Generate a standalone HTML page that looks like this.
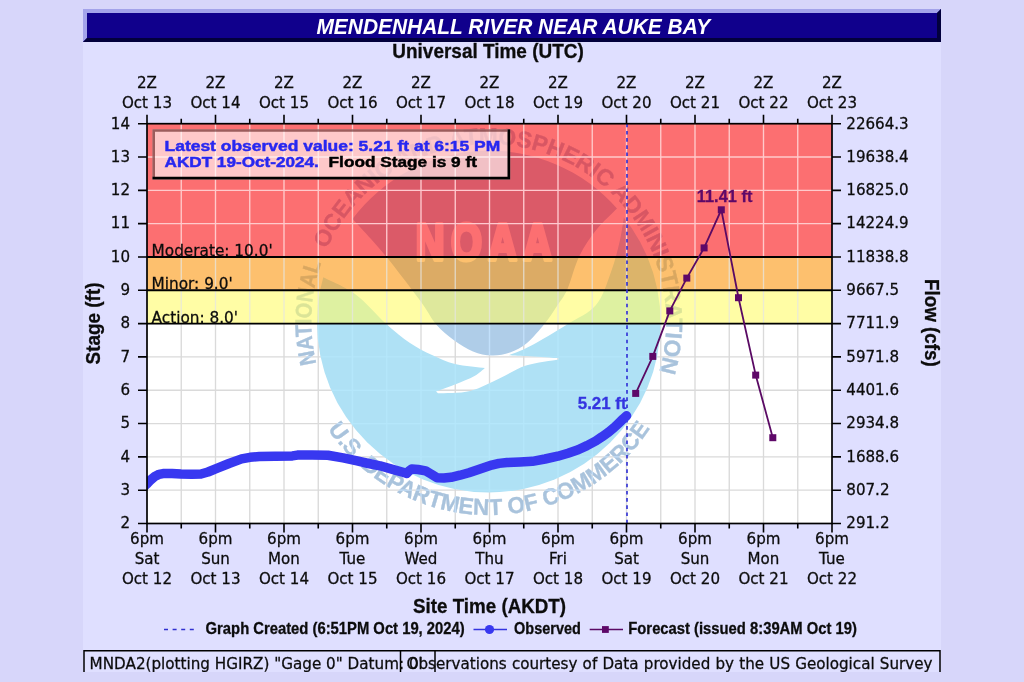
<!DOCTYPE html>
<html lang="en"><head><meta charset="utf-8"><title>Mendenhall River near Auke Bay</title>
<style>
html,body{margin:0;padding:0;background:#d7d6fa;}
body{width:1024px;height:682px;overflow:hidden;}
svg{display:block;}
.v{font-family:"DejaVu Sans", Verdana, "Liberation Sans", sans-serif;font-size:15.1px;fill:#0c0c0c;stroke:#0c0c0c;stroke-width:.28px;}
.b{font-family:"Liberation Sans", Arial, Helvetica, sans-serif;font-weight:bold;}
.k{stroke:#0c0c0c;stroke-width:.3px;}
</style></head><body>
<svg width="1024" height="682" viewBox="0 0 1024 682">
<defs>
<clipPath id="plot"><rect x="147" y="123.7" width="685" height="399.8"/></clipPath>
<clipPath id="panel"><rect x="83" y="9" width="858" height="663"/></clipPath>
<filter id="soft" x="-5%" y="-5%" width="110%" height="110%"><feGaussianBlur stdDeviation="0.45"/></filter>
</defs>
<rect x="0" y="0" width="1024" height="682" fill="#d7d6fa"/>
<rect x="83" y="9" width="858" height="663" fill="#dfdfff"/>
<g>
<rect x="83" y="9" width="858" height="33" fill="#10008c"/>
<polygon points="83,9 941,9 937,13 87,13 87,38 83,42" fill="#a3a3ea"/>
<polygon points="941,9 941,42 83,42 87,38 937,38 937,13" fill="#02003c"/>
<text class="b" x="316.4" y="33.7" font-size="21.6" font-style="italic" fill="#fff" textLength="393.8" lengthAdjust="spacingAndGlyphs">MENDENHALL RIVER NEAR AUKE BAY</text>
</g>
<text class="b k" x="392.3" y="58" font-size="20.2" fill="#0c0c0c" textLength="191.5" lengthAdjust="spacingAndGlyphs">Universal Time (UTC)</text>
<rect x="147" y="123.7" width="685" height="399.8" fill="#fff"/>
<g id="noaa" clip-path="url(#plot)">
<ellipse cx="488.8" cy="322.4" rx="171.8" ry="170" fill="#afe1f5"/>
<path d="M320.5 276.0 C326.2 279.0 344.1 286.1 355.0 294.0 C365.9 301.9 376.8 315.5 386.0 323.7 C395.2 331.9 402.3 337.8 410.0 343.0 C417.7 348.2 424.5 351.5 432.0 355.0 C439.5 358.5 446.2 361.8 455.0 364.0 C463.8 366.2 480.0 367.3 485.0 368.0 L485.0 368.0 C483.2 369.3 479.5 373.2 474.5 376.0 C469.5 378.8 461.4 381.9 455.0 384.5 C448.6 387.1 439.2 390.3 436.0 391.5 L438.0 393.3 C443.4 392.9 459.8 393.6 470.2 391.0 C480.6 388.4 491.0 382.2 500.3 378.0 C509.6 373.8 516.3 368.6 526.0 365.5 C535.7 362.4 553.1 360.4 558.5 359.4 L558.5 358.2 C553.8 357.9 538.2 356.7 530.0 356.2 C521.8 355.7 512.5 355.4 509.0 355.2 L509.0 355.2 C512.6 353.7 520.7 351.1 530.4 346.0 C540.1 340.9 556.1 331.2 567.0 324.4 C577.9 317.6 588.7 313.7 596.0 305.0 C603.3 296.3 607.0 282.8 611.0 272.0 C615.0 261.2 617.8 249.8 620.0 240.0 C622.2 230.2 623.8 217.5 624.5 213.0 A171.4 171.4 0 0 0 320.5 276.0 Z" fill="#ffffff"/>
<path d="M352.5 219.0 C355.6 222.3 365.1 232.4 371.0 239.0 C376.9 245.6 382.6 252.2 388.0 258.8 C393.4 265.4 397.5 270.9 403.4 278.6 C409.3 286.3 417.7 297.3 423.2 305.0 C428.7 312.7 431.3 318.9 436.4 324.8 C441.5 330.7 447.9 335.8 454.0 340.2 C460.1 344.6 466.7 348.9 473.0 351.5 C479.3 354.1 485.5 355.3 491.7 355.5 C497.9 355.7 504.1 354.6 510.0 352.5 C515.9 350.4 521.2 347.9 527.0 343.0 C532.8 338.1 540.0 329.5 545.0 323.3 C550.0 317.1 553.2 311.7 557.0 306.0 C560.8 300.3 563.8 297.3 567.5 289.0 C571.2 280.7 574.5 265.9 579.4 256.0 C584.2 246.1 590.3 237.5 596.6 229.6 C602.9 221.7 613.6 212.0 617.0 208.5 A170.4 170.4 0 0 0 352.5 219.0 Z" fill="#afcde8"/>
<text transform="translate(415.8 260.4) scale(0.78 1)" letter-spacing="8.2" font-family="&quot;Liberation Sans&quot;, Arial, sans-serif" font-weight="bold" font-size="51" fill="#ffffff" stroke="#ffffff" stroke-width="4.2" stroke-linejoin="round">NOAA</text>
<path id="ringTopA" d="M316.35 363.64 A177.5 177.5 0 0 1 321.28 262.93" fill="none"/>
<path id="ringTopB" d="M326.65 249.40 A177.5 177.5 0 0 1 659.08 371.72" fill="none"/>
<path id="ringBot" d="M327.82 428.96 A193.5 193.5 0 0 0 649.97 428.68" fill="none"/>
<g font-family="&quot;Liberation Sans&quot;, Arial, sans-serif" font-weight="bold" font-size="23" fill="#a9c3dc" stroke="#a9c3dc" stroke-width="0.35">
<text><textPath href="#ringTopA" textLength="102.2" lengthAdjust="spacingAndGlyphs">NATIONAL</textPath></text>
<text><textPath href="#ringTopB" textLength="534.1" lengthAdjust="spacingAndGlyphs">OCEANIC AND ATMOSPHERIC ADMINISTRATION</textPath></text>
<text><textPath href="#ringBot" textLength="380.6" lengthAdjust="spacingAndGlyphs">U.S. DEPARTMENT OF COMMERCE</textPath></text>
</g>
</g>
<g clip-path="url(#plot)">
<rect x="147" y="123.7" width="685" height="133.267" fill="#fa0a0d" fill-opacity="0.59"/>
<rect x="147" y="256.967" width="685" height="33.3167" fill="#fc9408" fill-opacity="0.59"/>
<rect x="147" y="290.283" width="685" height="33.3167" fill="#fffc66" fill-opacity="0.59"/>
</g>
<clipPath id="cool"><rect x="147" y="123.7" width="685" height="133.27"/><rect x="147" y="323.60" width="685" height="199.90"/></clipPath>
<clipPath id="warm"><rect x="147" y="256.97" width="685" height="66.63"/></clipPath>
<path d="M181.25 123.7 V523.5 M215.50 123.7 V523.5 M249.75 123.7 V523.5 M284.00 123.7 V523.5 M318.25 123.7 V523.5 M352.50 123.7 V523.5 M386.75 123.7 V523.5 M421.00 123.7 V523.5 M455.25 123.7 V523.5 M489.50 123.7 V523.5 M523.75 123.7 V523.5 M558.00 123.7 V523.5 M592.25 123.7 V523.5 M626.50 123.7 V523.5 M660.75 123.7 V523.5 M695.00 123.7 V523.5 M729.25 123.7 V523.5 M763.50 123.7 V523.5 M797.75 123.7 V523.5 M147 490.18 H832 M147 456.87 H832 M147 423.55 H832 M147 390.23 H832 M147 356.92 H832 M147 323.60 H832 M147 290.28 H832 M147 256.97 H832 M147 223.65 H832 M147 190.33 H832 M147 157.02 H832" stroke="#dadada" stroke-width="1.35" fill="none" clip-path="url(#cool)" style="mix-blend-mode:luminosity"/>
<path d="M181.25 123.7 V523.5 M215.50 123.7 V523.5 M249.75 123.7 V523.5 M284.00 123.7 V523.5 M318.25 123.7 V523.5 M352.50 123.7 V523.5 M386.75 123.7 V523.5 M421.00 123.7 V523.5 M455.25 123.7 V523.5 M489.50 123.7 V523.5 M523.75 123.7 V523.5 M558.00 123.7 V523.5 M592.25 123.7 V523.5 M626.50 123.7 V523.5 M660.75 123.7 V523.5 M695.00 123.7 V523.5 M729.25 123.7 V523.5 M763.50 123.7 V523.5 M797.75 123.7 V523.5 M147 490.18 H832 M147 456.87 H832 M147 423.55 H832 M147 390.23 H832 M147 356.92 H832 M147 323.60 H832 M147 290.28 H832 M147 256.97 H832 M147 223.65 H832 M147 190.33 H832 M147 157.02 H832" stroke="#e6e6e2" stroke-opacity="0.75" stroke-width="1.35" fill="none" clip-path="url(#warm)"/>
<text class="v" x="151.6" y="256.0" style="font-size:15.3px">Moderate: 10.0'</text>
<line x1="147" y1="256.97" x2="832" y2="256.97" stroke="#000" stroke-width="1.9"/>
<text class="v" x="151.6" y="289.3" style="font-size:15.3px">Minor: 9.0'</text>
<line x1="147" y1="290.28" x2="832" y2="290.28" stroke="#000" stroke-width="1.9"/>
<text class="v" x="151.6" y="322.6" style="font-size:15.3px">Action: 8.0'</text>
<line x1="147" y1="323.60" x2="832" y2="323.60" stroke="#000" stroke-width="1.9"/>
<line x1="627" y1="123.7" x2="627" y2="523.5" stroke="#2c2cd4" stroke-width="1.6" stroke-dasharray="3.6 3.6"/>
<polyline points="143,487.5 147,483.8 150,480.5 155.2,476.2 159,474.4 163,473.6 172,473.6 181,474.1 192,474.3 201,474 208,472 216.2,468.6 229,463.5 241.6,458.9 250,457.3 259.3,456.6 275,456.2 292.4,455.9 297.4,455.1 312,455 327.9,455.2 343.1,457.9 356,460.6 368.5,463.5 380,465.8 395.2,470.1 403,472.3 406.7,473.4 409,471 411.7,468.9 418,469.5 425.7,470.9 431,474 437.1,477.8 444,478 451.1,477.3 460,475.2 468.9,472.7 480,469 491.7,465.1 499,463.4 507,462.5 520,462 532.4,461.3 545,459 557.8,456.2 568,453.3 578.1,449.8 587,445.6 595.9,440.9 602,436.8 608.6,432.1 614,427.6 618.7,423.2 623,419 626.6,415.8" fill="none" stroke="#3838f0" stroke-width="9.5" stroke-linejoin="round" stroke-linecap="round" clip-path="url(#plot)"/>
<polyline points="635.7,393.4 652.8,356.4 669.8,310.9 686.8,278.1 704.1,247.9 721.3,209.8 738.5,297.7 755.7,375.1 772.8,437.7" fill="none" stroke="#5a0a64" stroke-width="1.8"/>
<rect x="632.2" y="389.9" width="7" height="7" fill="#5e0868"/>
<rect x="649.3" y="352.9" width="7" height="7" fill="#5e0868"/>
<rect x="666.3" y="307.4" width="7" height="7" fill="#5e0868"/>
<rect x="683.3" y="274.6" width="7" height="7" fill="#5e0868"/>
<rect x="700.6" y="244.4" width="7" height="7" fill="#5e0868"/>
<rect x="717.8" y="206.3" width="7" height="7" fill="#5e0868"/>
<rect x="735.0" y="294.2" width="7" height="7" fill="#5e0868"/>
<rect x="752.2" y="371.6" width="7" height="7" fill="#5e0868"/>
<rect x="769.3" y="434.2" width="7" height="7" fill="#5e0868"/>
<text class="b" x="724.6" y="202" text-anchor="middle" font-size="16.4" fill="#5e0868" stroke="#5e0868" stroke-width=".3">11.41 ft</text>
<text class="b" x="626.6" y="408.5" text-anchor="end" font-size="16.9" fill="#3434e0" stroke="#3434e0" stroke-width=".3">5.21 ft</text>
<rect x="152.4" y="129.2" width="357.8" height="50.3" fill="#ffffff" fill-opacity="0.62"/>
<path d="M153.7 177 V130.5 H507.5" stroke="#5a1414" stroke-opacity="0.6" stroke-width="2.6" fill="none"/>
<path d="M152.4 178.2 H508.85 V129.2" stroke="#000" stroke-width="2.7" fill="none"/>
<g class="b" font-size="14.3" lengthAdjust="spacingAndGlyphs">
<text x="164.5" y="151.3" fill="#2828f0" stroke="#2828f0" stroke-width=".45" textLength="335.8" lengthAdjust="spacingAndGlyphs">Latest observed value: 5.21 ft at 6:15 PM</text>
<text x="164.5" y="167.3" fill="#2828f0" stroke="#2828f0" stroke-width=".45" textLength="154.3" lengthAdjust="spacingAndGlyphs">AKDT 19-Oct-2024.</text>
<text x="328.6" y="167.3" fill="#000" stroke="#000" stroke-width=".45" textLength="148.3" lengthAdjust="spacingAndGlyphs">Flood Stage is 9 ft</text>
</g>
<rect x="147" y="123.7" width="685" height="399.8" fill="none" stroke="#000" stroke-width="1.7"/>
<path d="M147.00 123.7 v-9 M147.00 523.5 v9 M181.25 123.7 v-5 M181.25 523.5 v5 M215.50 123.7 v-9 M215.50 523.5 v9 M249.75 123.7 v-5 M249.75 523.5 v5 M284.00 123.7 v-9 M284.00 523.5 v9 M318.25 123.7 v-5 M318.25 523.5 v5 M352.50 123.7 v-9 M352.50 523.5 v9 M386.75 123.7 v-5 M386.75 523.5 v5 M421.00 123.7 v-9 M421.00 523.5 v9 M455.25 123.7 v-5 M455.25 523.5 v5 M489.50 123.7 v-9 M489.50 523.5 v9 M523.75 123.7 v-5 M523.75 523.5 v5 M558.00 123.7 v-9 M558.00 523.5 v9 M592.25 123.7 v-5 M592.25 523.5 v5 M626.50 123.7 v-9 M626.50 523.5 v9 M660.75 123.7 v-5 M660.75 523.5 v5 M695.00 123.7 v-9 M695.00 523.5 v9 M729.25 123.7 v-5 M729.25 523.5 v5 M763.50 123.7 v-9 M763.50 523.5 v9 M797.75 123.7 v-5 M797.75 523.5 v5 M832.00 123.7 v-9 M832.00 523.5 v9 M147 523.50 h-9 M832 523.50 h9 M147 490.18 h-9 M832 490.18 h9 M147 456.87 h-9 M832 456.87 h9 M147 423.55 h-9 M832 423.55 h9 M147 390.23 h-9 M832 390.23 h9 M147 356.92 h-9 M832 356.92 h9 M147 323.60 h-9 M832 323.60 h9 M147 290.28 h-9 M832 290.28 h9 M147 256.97 h-9 M832 256.97 h9 M147 223.65 h-9 M832 223.65 h9 M147 190.33 h-9 M832 190.33 h9 M147 157.02 h-9 M832 157.02 h9 M147 123.70 h-9 M832 123.70 h9" stroke="#000" stroke-width="1.6" fill="none"/>
<g class="v" text-anchor="middle">
<text x="147.0" y="88">2Z</text><text x="147.0" y="107.6">Oct 13</text>
<text x="147.0" y="543.8">6pm</text><text x="147.0" y="563.9">Sat</text><text x="147.0" y="583.7">Oct 12</text>
<text x="215.5" y="88">2Z</text><text x="215.5" y="107.6">Oct 14</text>
<text x="215.5" y="543.8">6pm</text><text x="215.5" y="563.9">Sun</text><text x="215.5" y="583.7">Oct 13</text>
<text x="284.0" y="88">2Z</text><text x="284.0" y="107.6">Oct 15</text>
<text x="284.0" y="543.8">6pm</text><text x="284.0" y="563.9">Mon</text><text x="284.0" y="583.7">Oct 14</text>
<text x="352.5" y="88">2Z</text><text x="352.5" y="107.6">Oct 16</text>
<text x="352.5" y="543.8">6pm</text><text x="352.5" y="563.9">Tue</text><text x="352.5" y="583.7">Oct 15</text>
<text x="421.0" y="88">2Z</text><text x="421.0" y="107.6">Oct 17</text>
<text x="421.0" y="543.8">6pm</text><text x="421.0" y="563.9">Wed</text><text x="421.0" y="583.7">Oct 16</text>
<text x="489.5" y="88">2Z</text><text x="489.5" y="107.6">Oct 18</text>
<text x="489.5" y="543.8">6pm</text><text x="489.5" y="563.9">Thu</text><text x="489.5" y="583.7">Oct 17</text>
<text x="558.0" y="88">2Z</text><text x="558.0" y="107.6">Oct 19</text>
<text x="558.0" y="543.8">6pm</text><text x="558.0" y="563.9">Fri</text><text x="558.0" y="583.7">Oct 18</text>
<text x="626.5" y="88">2Z</text><text x="626.5" y="107.6">Oct 20</text>
<text x="626.5" y="543.8">6pm</text><text x="626.5" y="563.9">Sat</text><text x="626.5" y="583.7">Oct 19</text>
<text x="695.0" y="88">2Z</text><text x="695.0" y="107.6">Oct 21</text>
<text x="695.0" y="543.8">6pm</text><text x="695.0" y="563.9">Sun</text><text x="695.0" y="583.7">Oct 20</text>
<text x="763.5" y="88">2Z</text><text x="763.5" y="107.6">Oct 22</text>
<text x="763.5" y="543.8">6pm</text><text x="763.5" y="563.9">Mon</text><text x="763.5" y="583.7">Oct 21</text>
<text x="832.0" y="88">2Z</text><text x="832.0" y="107.6">Oct 23</text>
<text x="832.0" y="543.8">6pm</text><text x="832.0" y="563.9">Tue</text><text x="832.0" y="583.7">Oct 22</text>
</g>
<g class="v" text-anchor="end">
<text x="130" y="528.3">2</text>
<text x="130" y="495.0">3</text>
<text x="130" y="461.7">4</text>
<text x="130" y="428.3">5</text>
<text x="130" y="395.0">6</text>
<text x="130" y="361.7">7</text>
<text x="130" y="328.4">8</text>
<text x="130" y="295.1">9</text>
<text x="130" y="261.8">10</text>
<text x="130" y="228.4">11</text>
<text x="130" y="195.1">12</text>
<text x="130" y="161.8">13</text>
<text x="130" y="128.5">14</text>
</g>
<g class="v">
<text x="846.3" y="528.3">291.2</text>
<text x="846.3" y="495.0">807.2</text>
<text x="846.3" y="461.7">1688.6</text>
<text x="846.3" y="428.3">2934.8</text>
<text x="846.3" y="395.0">4401.6</text>
<text x="846.3" y="361.7">5971.8</text>
<text x="846.3" y="328.4">7711.9</text>
<text x="846.3" y="295.1">9667.5</text>
<text x="846.3" y="261.8">11838.8</text>
<text x="846.3" y="228.4">14224.9</text>
<text x="846.3" y="195.1">16825.0</text>
<text x="846.3" y="161.8">19638.4</text>
<text x="846.3" y="128.5">22664.3</text>
</g>
<text class="b k" transform="translate(99.5 364.4) rotate(-90)" font-size="19.8" fill="#0c0c0c" textLength="81.9" lengthAdjust="spacingAndGlyphs">Stage (ft)</text>
<text class="b k" transform="translate(924.8 279) rotate(90)" font-size="19.8" fill="#0c0c0c" textLength="87.7" lengthAdjust="spacingAndGlyphs">Flow (cfs)</text>
<text class="b k" x="413" y="612.8" font-size="20.2" fill="#0c0c0c" textLength="153.1" lengthAdjust="spacingAndGlyphs">Site Time (AKDT)</text>
<line x1="164" y1="629.5" x2="196" y2="629.5" stroke="#3030d0" stroke-width="1.3" stroke-dasharray="4 4.6"/>
<text class="b k" x="205.6" y="634.2" font-size="15.9" fill="#0c0c0c" textLength="259.1" lengthAdjust="spacingAndGlyphs">Graph Created (6:51PM Oct 19, 2024)</text>
<line x1="473.5" y1="629.5" x2="507" y2="629.5" stroke="#3434e0" stroke-width="1.6"/>
<circle cx="489.5" cy="629.5" r="4.6" fill="#3838f0"/>
<text class="b k" x="514.1" y="634.2" font-size="15.9" fill="#0c0c0c" textLength="66.8" lengthAdjust="spacingAndGlyphs">Observed</text>
<line x1="589.7" y1="629.5" x2="623" y2="629.5" stroke="#5a0a64" stroke-width="1.5"/>
<rect x="602" y="626.1" width="6.8" height="6.8" fill="#5e0868"/>
<text class="b k" x="628.3" y="634.2" font-size="15.9" fill="#0c0c0c" textLength="228.6" lengthAdjust="spacingAndGlyphs">Forecast (issued 8:39AM Oct 19)</text>
<g clip-path="url(#panel)">
<path d="M84 673 V650.7 H940 V673 M400.5 650.7 V673 M435 650.7 V673" stroke="#000" stroke-width="1.5" fill="none"/>
<text class="v" x="89.6" y="668.6" style="font-size:15.2px">MNDA2(plotting HGIRZ) "Gage 0" Datum: 0'</text>
<text class="v" x="406.6" y="668.6" style="font-size:15.15px;word-spacing:.4px">Observations courtesy of Data provided by the US Geological Survey</text>
</g>
</svg></body></html>
